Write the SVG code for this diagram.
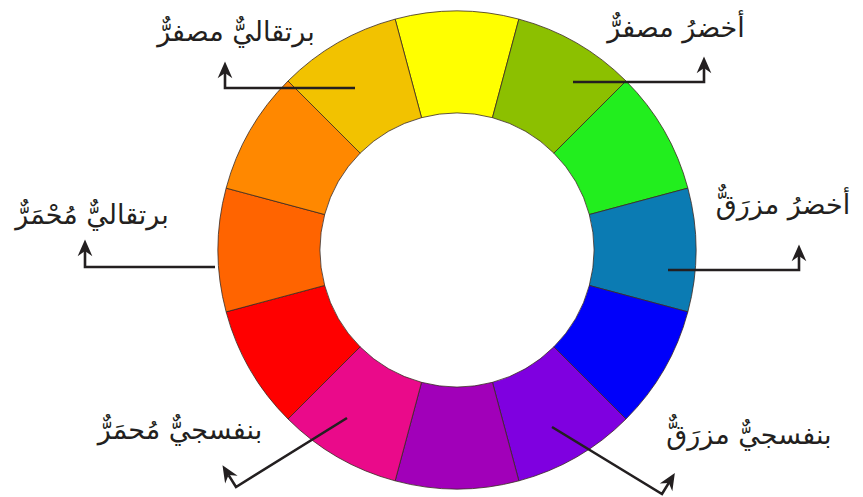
<svg xmlns="http://www.w3.org/2000/svg" width="863" height="497" viewBox="0 0 863 497">
<style>
.seg{stroke:#3a2a22;stroke-width:0.8}
.conn{fill:none;stroke:#231f20;stroke-width:2.6;stroke-linejoin:miter;marker-end:url(#ah)}
.lbl{font-family:"DejaVu Sans",sans-serif;font-size:27px;fill:#231f20;text-anchor:middle;direction:rtl}
</style>
<defs>
<marker id="ah" markerUnits="userSpaceOnUse" markerWidth="20" markerHeight="20" refX="5" refY="0" viewBox="-1 -9 19 18" orient="auto" overflow="visible">
<path d="M0,-7 L16,0 L0,7 L5,0 Z" fill="#231f20"/>
</marker>
</defs>
<rect width="863" height="497" fill="#ffffff"/>
<g id="wheel">
<path id="seg-yellow" class="seg" fill="#ffff00" d="M395.14,19.14 A239,239 0 0 1 518.86,19.14 L492.46,117.67 A137,137 0 0 0 421.54,117.67 Z"/>
<path id="seg-yellow-green" class="seg" fill="#8cc000" d="M518.86,19.14 A239,239 0 0 1 626,81 L553.87,153.13 A137,137 0 0 0 492.46,117.67 Z"/>
<path id="seg-green" class="seg" fill="#22ee1e" d="M626,81 A239,239 0 0 1 687.86,188.14 L589.33,214.54 A137,137 0 0 0 553.87,153.13 Z"/>
<path id="seg-teal" class="seg" fill="#0b7bb3" d="M687.86,188.14 A239,239 0 0 1 687.86,311.86 L589.33,285.46 A137,137 0 0 0 589.33,214.54 Z"/>
<path id="seg-blue" class="seg" fill="#0000fa" d="M687.86,311.86 A239,239 0 0 1 626,419 L553.87,346.87 A137,137 0 0 0 589.33,285.46 Z"/>
<path id="seg-violet" class="seg" fill="#7f00e0" d="M626,419 A239,239 0 0 1 518.86,480.86 L492.46,382.33 A137,137 0 0 0 553.87,346.87 Z"/>
<path id="seg-purple" class="seg" fill="#a100b9" d="M518.86,480.86 A239,239 0 0 1 395.14,480.86 L421.54,382.33 A137,137 0 0 0 492.46,382.33 Z"/>
<path id="seg-magenta" class="seg" fill="#ea0a8a" d="M395.14,480.86 A239,239 0 0 1 288,419 L360.13,346.87 A137,137 0 0 0 421.54,382.33 Z"/>
<path id="seg-red" class="seg" fill="#ff0000" d="M288,419 A239,239 0 0 1 226.14,311.86 L324.67,285.46 A137,137 0 0 0 360.13,346.87 Z"/>
<path id="seg-orange-red" class="seg" fill="#ff6400" d="M226.14,311.86 A239,239 0 0 1 226.14,188.14 L324.67,214.54 A137,137 0 0 0 324.67,285.46 Z"/>
<path id="seg-orange" class="seg" fill="#ff8800" d="M226.14,188.14 A239,239 0 0 1 288,81 L360.13,153.13 A137,137 0 0 0 324.67,214.54 Z"/>
<path id="seg-yellow-orange" class="seg" fill="#f2c200" d="M288,81 A239,239 0 0 1 395.14,19.14 L421.54,117.67 A137,137 0 0 0 360.13,153.13 Z"/>
</g>
<g id="connectors">
<path class="conn" d="M355,88 H225 V73"/>
<path class="conn" d="M573,82 H704 V68"/>
<path class="conn" d="M668,270 H799 V256"/>
<path class="conn" d="M215,267 H85 V251"/>
<path class="conn" d="M347,418 L236,487 L228.6,475.1"/>
<path class="conn" d="M552,427 L662,494 L668.8,482.9"/>
</g>
<g id="label-orange-yellow"><text class="lbl" x="236" y="41">برتقاليٌّ مصفرٌّ</text></g>
<g id="label-green-yellow"><text class="lbl" x="676" y="37">أخضرُ مصفرٌّ</text></g>
<g id="label-green-blue"><text class="lbl" x="783" y="214">أخضرُ مزرَقٌّ</text></g>
<g id="label-orange-red"><text class="lbl" x="92" y="224">برتقاليٌّ مُحْمَرٌّ</text></g>
<g id="label-violet-red"><text class="lbl" x="180" y="439">بنفسجيٌّ مُحمَرٌّ</text></g>
<g id="label-violet-blue"><text class="lbl" x="749" y="444">بنفسجيٌّ مزرَقٌّ</text></g>
</svg>
